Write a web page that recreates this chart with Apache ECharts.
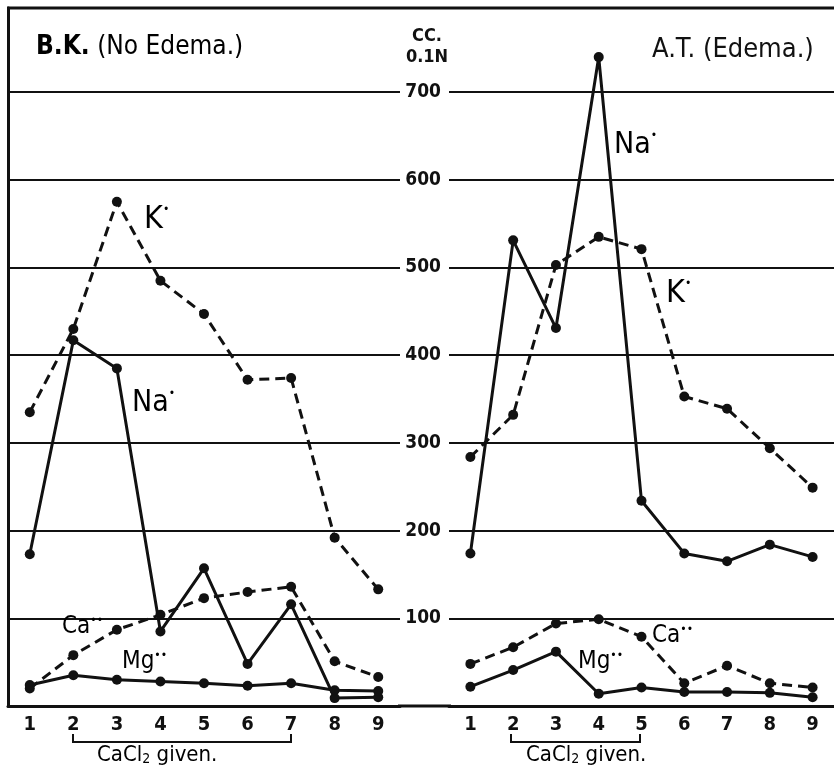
<!DOCTYPE html>
<html>
<head>
<meta charset="utf-8">
<script src="https://cdn.jsdelivr.net/npm/echarts@6/dist/echarts.min.js"></script>
<style>
html, body { margin: 0; background: #fff; }
#main { width: 834px; height: 777px; }
</style>
</head>
<body>
<div id="main"></div>
<script>
const days = ['1', '2', '3', '4', '5', '6', '7', '8', '9']
const yTicks = [100, 200, 300, 400, 500, 600, 700]

// B.K. (No Edema.)
const bkK = [335, 430, 575, 485, 447, 372, 374, 192, 133]
const bkNa = [173, 417, 385, 85, 157, 48, 116, 9, 10]
const bkCa = [20, 58, 87, 104, 123, 130, 136, 51, 33]
const bkMg = [24, 35, 30, 28, 26, 23, 26, 18, 17]

// A.T. (Edema.)
const atNa = [174, 531, 431, 740, 234, 174, 165, 184, 170]
const atK = [284, 332, 503, 535, 521, 353, 339, 294, 249]
const atCa = [48, 67, 94, 99, 79, 26, 46, 26, 21]
const atMg = [22, 41, 62, 14, 21, 16, 16, 15, 10]

const ink = '#111'
const font = "'DejaVu Sans Condensed', 'Liberation Sans Narrow', 'DejaVu Sans', sans-serif"

const chart = echarts.init(document.getElementById('main'), null, { renderer: 'canvas' })

const xAxisBase = (gridIndex) => ({
    type: 'category',
    gridIndex,
    data: days,
    boundaryGap: true,
    axisLine: { lineStyle: { color: ink, width: 3 } },
    axisTick: { alignWithLabel: true, length: 6, lineStyle: { color: ink, width: 2 } },
    axisLabel: { color: ink, fontFamily: font, fontWeight: 'bold', fontSize: 20, margin: 9 },
    splitLine: { show: false }
})

const yAxisBase = (gridIndex) => ({
    type: 'value',
    gridIndex,
    min: 0,
    max: 796,
    interval: 100,
    splitLine: { lineStyle: { color: ink, width: 2 } },
    axisTick: { show: false }
})

const line = (name, data, dashed, xi) => ({
    name,
    type: 'line',
    xAxisIndex: xi,
    yAxisIndex: xi,
    data,
    symbol: 'circle',
    symbolSize: 10,
    lineStyle: { color: ink, width: 3, type: dashed ? [10, 6] : 'solid' },
    itemStyle: { color: ink },
    animation: false,
    z: 3
})

// ion names like K˙ / Ca˙˙ drawn beside their curves
const ion = (text, dots, x, y, size) => ({
    type: 'text',
    left: x,
    top: y,
    style: {
        text: '{b|' + text + '}{s|' + dots + '}',
        rich: {
            b: { fontFamily: font, color: ink, fontSize: size },
            s: { fontFamily: font, color: ink, fontSize: 12, verticalAlign: 'top' }
        }
    },
    z: 10
})

const bracketText = {
    text: '{a|CaCl}{b|2}{a| given.}',
    rich: {
        a: { fontFamily: font, fontSize: 22, color: ink },
        b: { fontFamily: font, fontSize: 14, color: ink, verticalAlign: 'bottom', padding: [8, 0, 0, 0] }
    }
}

chart.setOption({
    backgroundColor: '#fff',
    animation: false,
    grid: [
        { left: 8, top: 8, width: 392, bottom: 71 },
        { left: 449, top: 8, width: 390, bottom: 71 }
    ],
    xAxis: [xAxisBase(0), xAxisBase(1)],
    yAxis: [
        {
            ...yAxisBase(0),
            axisLine: { show: true, lineStyle: { color: ink, width: 3 } },
            axisLabel: { show: false }
        },
        {
            ...yAxisBase(1),
            axisLine: { show: false },
            axisLabel: {
                color: ink,
                fontFamily: font,
                fontWeight: 'bold',
                fontSize: 19,
                margin: 8,
                formatter: (v) => (yTicks.includes(v) ? String(v) : '')
            }
        }
    ],
    series: [
        line('K (B.K.)', bkK, true, 0),
        line('Na (B.K.)', bkNa, false, 0),
        line('Ca (B.K.)', bkCa, true, 0),
        line('Mg (B.K.)', bkMg, false, 0),
        line('Na (A.T.)', atNa, false, 1),
        line('K (A.T.)', atK, true, 1),
        line('Ca (A.T.)', atCa, true, 1),
        line('Mg (A.T.)', atMg, false, 1)
    ],
    graphic: [
        // frame pieces
        { type: 'line', shape: { x1: 7, y1: 8, x2: 834, y2: 8 }, style: { stroke: ink, lineWidth: 3 } },
        { type: 'line', shape: { x1: 398, y1: 706, x2: 451, y2: 706 }, style: { stroke: ink, lineWidth: 3 } },
        // titles
        {
            type: 'text', left: 36, top: 34,
            style: {
                text: '{b|B.K.}{n| (No Edema.)}',
                rich: {
                    b: { fontFamily: font, fontSize: 26, fontWeight: 'bold', color: ink },
                    n: { fontFamily: font, fontSize: 26, color: ink }
                }
            }
        },
        {
            type: 'text', left: 652, top: 36,
            style: { text: 'A.T. (Edema.)', fontFamily: font, fontSize: 27, fill: ink }
        },
        {
            type: 'text',
            style: { x: 427, y: 36, text: 'CC.', fontFamily: font, fontSize: 18, fontWeight: 'bold', fill: ink, textAlign: 'center', textVerticalAlign: 'middle' }
        },
        {
            type: 'text',
            style: { x: 427, y: 57, text: '0.1N', fontFamily: font, fontSize: 18, fontWeight: 'bold', fill: ink, textAlign: 'center', textVerticalAlign: 'middle' }
        },
        // ion labels
        ion('K', '•', 144, 204, 32),
        ion('Na', '•', 132, 388, 30),
        ion('Ca', '••', 62, 615, 24),
        ion('Mg', '••', 122, 650, 24),
        ion('Na', '•', 614, 130, 30),
        ion('K', '•', 666, 278, 32),
        ion('Ca', '••', 652, 624, 24),
        ion('Mg', '••', 578, 650, 24),
        // CaCl2 given brackets
        { type: 'polyline', shape: { points: [[73, 734], [73, 742], [291, 742], [291, 734]] }, style: { stroke: ink, lineWidth: 2, fill: null } },
        { type: 'text', left: 97, top: 744, style: bracketText },
        { type: 'polyline', shape: { points: [[511, 734], [511, 742], [640, 742], [640, 734]] }, style: { stroke: ink, lineWidth: 2, fill: null } },
        { type: 'text', left: 526, top: 744, style: bracketText }
    ]
})
</script>
</body>
</html>
